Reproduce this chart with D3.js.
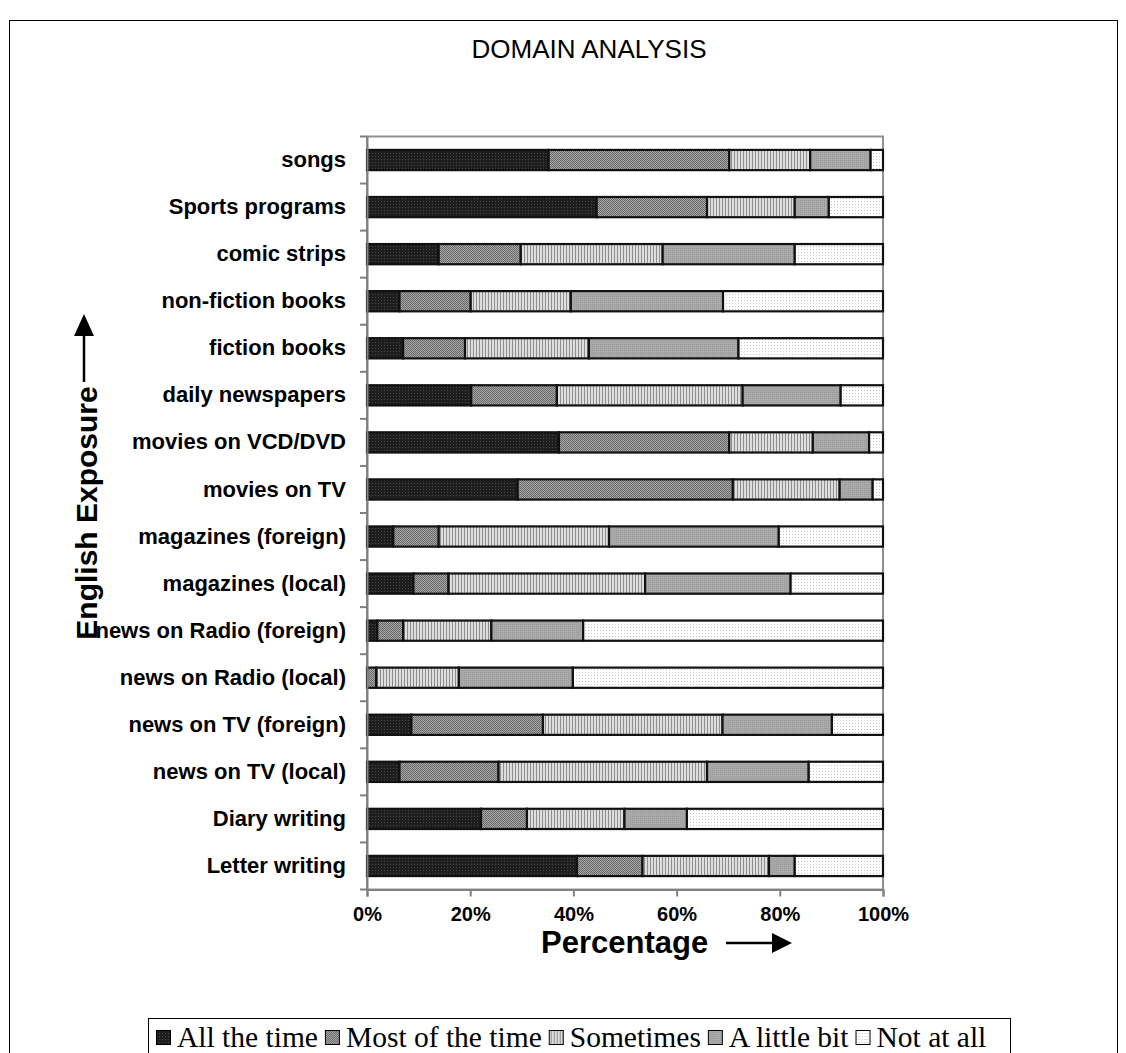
<!DOCTYPE html>
<html><head><meta charset="utf-8">
<script src="https://cdn.jsdelivr.net/npm/d3@7"></script>
<style>body{margin:0;background:#fff}svg{display:block}</style>
</head><body>
<svg id="c" width="1126" height="1053"></svg>
<script>
const categories = ["songs","Sports programs","comic strips","non-fiction books","fiction books","daily newspapers","movies on VCD/DVD","movies on TV","magazines (foreign)","magazines (local)","news on Radio (foreign)","news on Radio (local)","news on TV (foreign)","news on TV (local)","Diary writing","Letter writing"];
const seriesNames = ["All the time","Most of the time","Sometimes","A little bit","Not at all"];
const allTheTime   = [35.2,44.5,13.9, 6.3, 7.0,20.2,37.2,29.2, 5.1, 9.0, 2.0, 0.0, 8.6, 6.3,22.1,40.7];
const mostOfTime   = [35.0,21.4,15.9,13.8,12.0,16.6,33.0,41.7, 8.8, 6.8, 5.0, 1.8,25.5,19.2, 8.9,12.7];
const sometimes    = [15.7,17.0,27.5,19.4,24.0,36.0,16.2,20.7,33.0,38.1,17.1,16.0,34.8,40.4,18.9,24.5];
const aLittleBit   = [11.7, 6.6,25.6,29.5,29.0,19.0,10.9, 6.4,32.9,28.2,17.8,22.1,21.2,19.7,12.1, 5.0];
const notAtAll     = [ 2.4,10.5,17.1,31.0,28.0, 8.2, 2.7, 2.0,20.2,17.9,58.1,60.1, 9.9,14.4,38.0,17.1];
const xTicks = [0,0.2,0.4,0.6,0.8,1.0];

const svg = d3.select("#c");
const m = {left:367, right:883, top:136.5, bottom:889.5};
const SANS = "Liberation Sans, Arial, sans-serif";

// patterns
const defs = svg.append("defs");
function pat(id, w, h, bg, dots){
  const p = defs.append("pattern").attr("id",id).attr("patternUnits","userSpaceOnUse").attr("width",w).attr("height",h);
  p.append("rect").attr("width",w).attr("height",h).attr("fill",bg);
  dots.forEach(d=>p.append("rect").attr("x",d[0]).attr("y",d[1]).attr("width",d[2]).attr("height",d[3]).attr("fill",d[4]));
}
pat("p0",3,3,"#1e1e1e",[[0,0,1,1,"#444"]]);
pat("p1",2,2,"#a4a4a4",[[0,0,1,1,"#6c6c6c"],[1,1,1,1,"#6c6c6c"]]);
pat("p2",3,3,"#dedede",[[2,0,1,3,"#8e8e8e"]]);
pat("p3",2,2,"#a9a9a9",[[0,0,1,1,"#9a9a9a"]]);
pat("p4",3,3,"#ffffff",[[0,0,1,1,"#c4c4c4"]]);
const fills = ["url(#p0)","url(#p1)","url(#p2)","url(#p3)","url(#p4)"];

// outer border
svg.append("rect").attr("x",9.5).attr("y",20.5).attr("width",1108).attr("height",1060).attr("fill","none").attr("stroke","#000").attr("stroke-width",1);

// title
svg.append("text").attr("x",589).attr("y",58).attr("text-anchor","middle")
  .attr("font-family",SANS).attr("font-size",26).text("DOMAIN ANALYSIS");

const x = d3.scaleLinear().domain([0,1]).range([m.left,m.right]);
const y = d3.scaleBand().domain(categories).range([m.top,m.bottom]).paddingInner(0.57).paddingOuter(0.285);

const table = categories.map((c,i)=>({cat:c, v:[allTheTime[i],mostOfTime[i],sometimes[i],aLittleBit[i],notAtAll[i]]}));
const stack = d3.stack().keys([0,1,2,3,4]).value((d,k)=>d.v[k]).offset(d3.stackOffsetExpand);
const series = stack(table);

// plot border
svg.append("rect").attr("x",m.left).attr("y",m.top).attr("width",m.right-m.left).attr("height",m.bottom-m.top)
  .attr("fill","#fff").attr("stroke","#909090").attr("stroke-width",2);

const g = svg.append("g");
series.forEach((s,k)=>{
  g.selectAll(null).data(s).join("rect")
    .attr("x",d=>x(d[0])).attr("width",d=>Math.max(0,x(d[1])-x(d[0])))
    .attr("y",d=>y(d.data.cat)).attr("height",y.bandwidth())
    .attr("fill",fills[k]).attr("stroke","#111").attr("stroke-width",2.2)
    .attr("display",d=>d[1]-d[0]>0?null:"none");
});

// y axis
const yAxis = d3.axisLeft(y).tickSize(0).tickPadding(21);
const ya = svg.append("g").attr("transform",`translate(${m.left},0)`).call(yAxis);
ya.select(".domain").attr("stroke","#808080").attr("stroke-width",2);
ya.selectAll("text").attr("font-family",SANS).attr("font-weight","bold").attr("font-size",22).attr("fill","#000");
const bounds = categories.map(c=>y(c)-y.step()*y.paddingInner()/2).concat([m.bottom]);
svg.append("g").selectAll("line").data(bounds).join("line")
  .attr("x1",m.left-7).attr("x2",m.left).attr("y1",d=>d).attr("y2",d=>d).attr("stroke","#808080").attr("stroke-width",2);

// x axis
const xAxis = d3.axisBottom(x).tickValues(xTicks).tickFormat(d3.format(".0%")).tickSize(7).tickPadding(10);
const xa = svg.append("g").attr("transform",`translate(0,${m.bottom})`).call(xAxis);
xa.select(".domain").attr("stroke","#808080").attr("stroke-width",2);
xa.selectAll(".tick line").attr("stroke","#808080").attr("stroke-width",2);
xa.selectAll("text").attr("font-family",SANS).attr("font-weight","bold").attr("font-size",20).attr("fill","#000");

// x title + arrow
svg.append("text").attr("x",541).attr("y",953).attr("font-family",SANS).attr("font-weight","bold").attr("font-size",31).text("Percentage");
svg.append("line").attr("x1",726).attr("x2",775).attr("y1",943).attr("y2",943).attr("stroke","#000").attr("stroke-width",2.5);
svg.append("path").attr("d","M772,933 L792,943 L772,953 Z").attr("fill","#000");

// y title + arrow
svg.append("text").attr("transform","translate(97,513) rotate(-90)").attr("text-anchor","middle")
  .attr("font-family",SANS).attr("font-weight","bold").attr("font-size",30).text("English Exposure");
svg.append("line").attr("x1",84).attr("x2",84).attr("y1",382).attr("y2",330).attr("stroke","#000").attr("stroke-width",2.5);
svg.append("path").attr("d","M74,336 L84,314 L94,336 Z").attr("fill","#000");

// legend
svg.append("rect").attr("x",148.5).attr("y",1018.5).attr("width",862).attr("height",60).attr("fill","#fff").attr("stroke","#000").attr("stroke-width",1);
const lg = svg.append("g").attr("transform","translate(156,1030)");
let lx = 0;
seriesNames.forEach((n,k)=>{
  const it = lg.append("g").attr("transform",`translate(${lx},0)`);
  it.append("rect").attr("x",0.5).attr("y",0.5).attr("width",14).attr("height",14).attr("fill",fills[k]).attr("stroke","#000").attr("stroke-width",1);
  const t = it.append("text").attr("x",21).attr("y",17).attr("font-family","Liberation Serif, Times New Roman, serif").attr("font-size",29.5).text(n);
  lx += 21 + t.node().getComputedTextLength() + 7;
});
</script>
</body></html>
